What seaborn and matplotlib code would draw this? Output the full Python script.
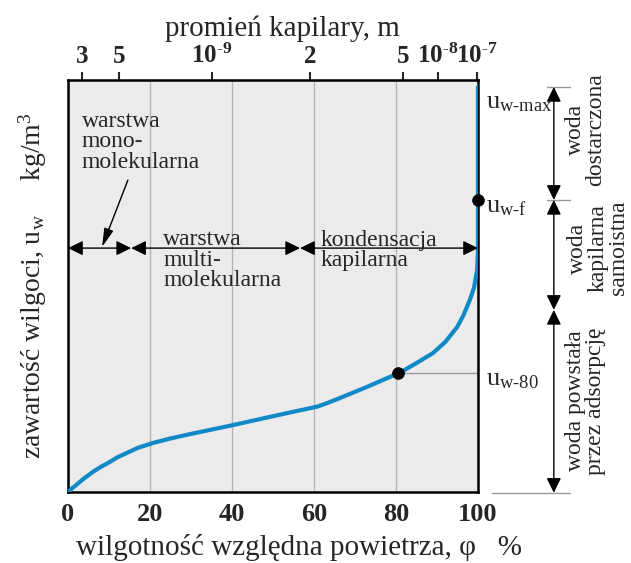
import matplotlib
matplotlib.use("Agg")
import matplotlib.pyplot as plt
import seaborn as sns
import pandas as pd

# Izoterma sorpcji
phi = [0, 1, 2, 3.9, 6.1, 8, 10.2, 12, 14.4, 17, 20.7, 25, 30, 40.5, 50, 56, 60.7, 63,
       66.3, 72.9, 81.2, 85, 89, 92, 94.9, 96.5, 98, 99, 99.8, 100, 100]
u = [0, 0.009, 0.017, 0.033, 0.049, 0.061, 0.073, 0.084, 0.095, 0.107, 0.119, 0.130,
     0.141, 0.163, 0.184, 0.197, 0.207, 0.215, 0.228, 0.255, 0.291, 0.313, 0.337,
     0.364, 0.400, 0.430, 0.466, 0.495, 0.539, 0.587, 0.983]

# punkty charakterystyczne
pkt_phi = [80.5, 100]
pkt_u = [0.289, 0.709]

# os gorna - promien kapilary
r_pos = [3.4, 12.4, 35.1, 59, 81.7, 90.2, 99.8]
r_lab = [r"$\mathbf{3}$", r"$\mathbf{5}$", r"$\mathbf{10}^{\text{-}\mathbf{9}}$",
         r"$\mathbf{2}$", r"$\mathbf{5}$", r"$\mathbf{10}^{\text{-}\mathbf{8}}$",
         r"$\mathbf{10}^{\text{-}\mathbf{7}}$"]

# granice zakresow
u_max, u_f, u_ads = 0.983, 0.709, 0.442
granice_phi = [0, 15.4, 56.6, 100]

sns.set_style("white")
plt.rcParams["font.family"] = ["Liberation Serif", "DejaVu Serif"]
plt.rcParams["mathtext.fontset"] = "custom"
plt.rcParams["mathtext.rm"] = "Liberation Serif"
plt.rcParams["mathtext.it"] = "Liberation Serif:italic"
plt.rcParams["mathtext.bf"] = "Liberation Serif:bold"

fig = plt.figure(figsize=(6.31, 5.63), dpi=100)
ax = fig.add_axes([0.1078, 0.1261, 0.6497, 0.7318])
ax.set_facecolor("#ebebeb")

df = pd.DataFrame({"phi": phi, "u": u})
sns.lineplot(data=df, x="phi", y="u", sort=False, estimator=None,
             color="#1189c7", linewidth=3, ax=ax, zorder=3)
sns.scatterplot(x=pkt_phi, y=pkt_u, color="black", s=70, edgecolor="black",
                ax=ax, zorder=4, clip_on=False)

ax.set_xlim(0, 100)
ax.set_ylim(0, 1)
ax.set_xticks([0, 20, 40, 60, 80, 100])
ax.set_yticks([])
ax.grid(axis="x", color="#b4b4b4", linewidth=1)
ax.tick_params(axis="x", length=0, pad=8, labelsize=19)
for t in ax.get_xticklabels():
    t.set_fontweight("bold")
for s in ax.spines.values():
    s.set_linewidth(1.8)
    s.set_color("black")

ax.set_xlabel("wilgotność względna powietrza, φ   %", fontsize=21, labelpad=6)
ax.xaxis.label.set_x(0.563)
ax.set_ylabel(r"zawartość wilgoci, u$_\mathrm{w}$     kg/m$^3$", fontsize=20, labelpad=14)

top = ax.secondary_xaxis("top")
top.set_xticks(r_pos)
top.set_xticklabels(r_lab)
top.tick_params(length=6, width=1.5, pad=3, labelsize=18, direction="out")
top.set_xlabel("promień kapilary, m", fontsize=21, labelpad=5)
top.xaxis.label.set_x(0.524)

# strzalki poziome
y_h = 0.592
strz = "<|-|>,head_length=0.45,head_width=0.22"
for a, b in zip(granice_phi[:-1], granice_phi[1:]):
    ax.annotate("", xy=(a, y_h), xytext=(b, y_h),
                arrowprops=dict(arrowstyle=strz, color="black", lw=1,
                                mutation_scale=20, shrinkA=0, shrinkB=0))

ax.annotate("", xy=(8.3, 0.595), xytext=(14.6, 0.757),
            arrowprops=dict(arrowstyle="-|>,head_length=0.7,head_width=0.18",
                            color="black", lw=1, mutation_scale=16,
                            shrinkA=0, shrinkB=0))

fs = 17
ax.text(3.4, 0.85, "warstwa\nmono-\nmolekularna", fontsize=fs, ha="left", va="center",
        linespacing=0.95)
ax.text(23.2, 0.563, "warstwa\nmulti-\nmolekularna", fontsize=fs, ha="left", va="center",
        linespacing=0.95)
ax.text(61.5, 0.587, "kondensacja\nkapilarna", fontsize=fs, ha="left", va="center",
        linespacing=0.95)

# linia u_w-80
ax.plot([80.5, 100], [0.289, 0.289], color="#9a9a9a", lw=1, zorder=2)

# prawa strona
ax.plot([116.8, 122.4], [u_max, u_max], color="#9a9a9a", lw=1, clip_on=False)
ax.plot([116.8, 122.4], [u_f, u_f], color="#9a9a9a", lw=1, clip_on=False)
ax.plot([103.4, 122.4], [-0.002, -0.002], color="#9a9a9a", lw=1, clip_on=False)

x_v = 118.5
for a, b in [(u_max, u_f), (u_f, u_ads), (u_ads, -0.002)]:
    ax.annotate("", xy=(x_v, a), xytext=(x_v, b), annotation_clip=False,
                arrowprops=dict(arrowstyle=strz, color="black", lw=1,
                                mutation_scale=20, shrinkA=0, shrinkB=0))

ax.text(102.0, 0.944, r"u$_\mathrm{w\text{-}max}$", fontsize=19, ha="left", va="center",
        clip_on=False)
ax.text(102.0, 0.692, r"u$_\mathrm{w\text{-}f}$", fontsize=19, ha="left", va="center",
        clip_on=False)
ax.text(102.0, 0.272, r"u$_\mathrm{w\text{-}80}$", fontsize=19, ha="left", va="center",
        clip_on=False)

ax.text(126.3, 0.879, "woda\ndostarczona", fontsize=fs, rotation=90, ha="center",
        va="center", multialignment="center", linespacing=0.95, clip_on=False)
ax.text(129.3, 0.592, "woda\nkapilarna\nsamoistna", fontsize=fs, rotation=90,
        ha="center", va="center", multialignment="center", linespacing=0.95,
        clip_on=False)
ax.text(126.3, 0.221, "woda powstała\nprzez adsorpcję", fontsize=fs, rotation=90,
        ha="center", va="center", multialignment="center", linespacing=0.95,
        clip_on=False)

fig.savefig("out.png", dpi=100)
